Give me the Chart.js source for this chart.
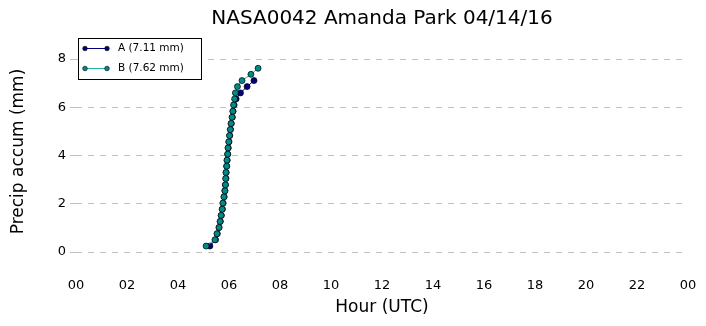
<!DOCTYPE html>
<html>
<head>
<meta charset="utf-8">
<script src="https://cdn.jsdelivr.net/npm/chart.js@4.4.1/dist/chart.umd.min.js"></script>
<style>
  body { margin: 0; background: #fff; }
  canvas { display: block; }
</style>
</head>
<body>
<canvas id="precipChart" width="706" height="326"></canvas>
<script>
// cumulative precip (mm), one point per bucket tip
const seriesA = [0.25, 0.51, 0.76, 1.02, 1.27, 1.52, 1.78, 2.03, 2.29, 2.54, 2.79, 3.05, 3.30, 3.56,
                 3.81, 4.06, 4.32, 4.57, 4.83, 5.08, 5.33, 5.59, 5.84, 6.10, 6.35, 6.60, 6.86, 7.11];
const hoursA = [5.25, 5.47, 5.54, 5.61, 5.66, 5.70, 5.74, 5.77, 5.81, 5.84, 5.86, 5.88, 5.89, 5.91,
                5.93, 5.95, 5.97, 6.00, 6.03, 6.06, 6.09, 6.13, 6.16, 6.20, 6.28, 6.45, 6.71, 6.98];
const seriesB = [0.25, 0.51, 0.76, 1.02, 1.27, 1.52, 1.78, 2.03, 2.29, 2.54, 2.79, 3.05, 3.30, 3.56,
                 3.81, 4.06, 4.32, 4.57, 4.83, 5.08, 5.33, 5.59, 5.84, 6.10, 6.35, 6.60, 6.86, 7.11,
                 7.37, 7.62];
const hoursB = [5.10, 5.45, 5.53, 5.61, 5.65, 5.69, 5.73, 5.76, 5.80, 5.84, 5.86, 5.87, 5.88, 5.91,
                5.92, 5.95, 5.96, 5.99, 6.02, 6.05, 6.08, 6.12, 6.15, 6.18, 6.22, 6.25, 6.33, 6.51,
                6.86, 7.14];
const seriesLabels = ['A (7.11 mm)', 'B (7.62 mm)'];
const xTicks = [0, 2, 4, 6, 8, 10, 12, 14, 16, 18, 20, 22, 24];
const yTicks = [0, 2, 4, 6, 8];
const titleText = 'NASA0042 Amanda Park 04/14/16';

const colA = '#000080';
const colB = '#20b2aa';
const fillB = '#008b8b';
const FONT = "'DejaVu Sans', sans-serif";

const toPoints = (xs, ys) => xs.map((x, i) => ({ x: x, y: ys[i] }));

// title centred over the plot area, not the canvas
const plotTitle = {
    id: 'plotTitle',
    afterDraw(chart) {
        const c = chart.ctx;
        const a = chart.chartArea;
        c.save();
        c.fillStyle = '#000';
        c.font = '20px ' + FONT;
        c.textAlign = 'center';
        c.textBaseline = 'middle';
        c.fillText(titleText, (a.left + a.right) / 2, 19);
        c.restore();
    }
};

// legend box drawn inside the plot, top left
const boxLegend = {
    id: 'boxLegend',
    afterDraw(chart) {
        const c = chart.ctx;
        const left = chart.chartArea.left + 2;
        const top = chart.chartArea.top + 3;
        c.save();
        c.fillStyle = '#fff';
        c.fillRect(left, top, 123, 41);
        c.strokeStyle = '#000';
        c.lineWidth = 1;
        c.strokeRect(left + 0.5, top + 0.5, 123, 41);
        chart.data.datasets.forEach((ds, i) => {
            const y = top + 10.5 + i * 20;
            c.strokeStyle = ds.borderColor;
            c.lineWidth = 1;
            c.beginPath();
            c.moveTo(left + 7, y);
            c.lineTo(left + 29, y);
            c.stroke();
            [left + 7, left + 29].forEach(px => {
                c.beginPath();
                c.arc(px, y, 2.3, 0, Math.PI * 2);
                c.fillStyle = ds.pointBackgroundColor;
                c.fill();
                c.strokeStyle = '#000';
                c.lineWidth = 0.6;
                c.stroke();
            });
            c.fillStyle = '#000';
            c.font = '10.5px ' + FONT;
            c.textBaseline = 'middle';
            c.fillText(ds.label, left + 40, y);
        });
        c.restore();
    }
};

new Chart(document.getElementById('precipChart'), {
    type: 'line',
    data: {
        datasets: [{
            label: seriesLabels[0],
            data: toPoints(hoursA, seriesA),
            borderColor: colA,
            borderWidth: 1,
            pointBackgroundColor: colA,
            pointBorderColor: '#000',
            pointBorderWidth: 0.7,
            pointRadius: 3,
            order: 1
        }, {
            label: seriesLabels[1],
            data: toPoints(hoursB, seriesB),
            borderColor: colB,
            borderWidth: 1,
            pointBackgroundColor: fillB,
            pointBorderColor: '#000',
            pointBorderWidth: 0.7,
            pointRadius: 3,
            order: 0
        }]
    },
    options: {
        responsive: false,
        animation: false,
        layout: { padding: { left: 0, right: 18, top: 35, bottom: 0 } },
        plugins: {
            legend: { display: false },
            tooltip: { enabled: false },
            title: { display: false }
        },
        scales: {
            x: {
                type: 'linear',
                min: 0,
                max: 24,
                afterBuildTicks: s => { s.ticks = xTicks.map(v => ({ value: v })); },
                afterFit: s => { s.height = 58; },
                grid: { display: false },
                border: { display: false },
                ticks: {
                    color: '#000',
                    padding: 2,
                    maxRotation: 0,
                    font: { family: FONT, size: 13 },
                    callback: v => String(v % 24).padStart(2, '0')
                },
                title: {
                    display: true,
                    text: 'Hour (UTC)',
                    color: '#000',
                    font: { family: FONT, size: 17 },
                    padding: { top: 2, bottom: 8 }
                }
            },
            y: {
                min: -0.66,
                max: 9,
                afterBuildTicks: s => { s.ticks = yTicks.map(v => ({ value: v })); },
                afterFit: s => { s.width = 76; },
                grid: {
                    color: '#c0c0c0',
                    lineWidth: 1,
                    tickLength: 6,
                    drawTicks: true
                },
                border: { display: false, dash: [6, 6] },
                ticks: {
                    color: '#000',
                    padding: 4,
                    font: { family: FONT, size: 13 }
                },
                title: {
                    display: true,
                    text: 'Precip accum (mm)',
                    color: '#000',
                    font: { family: FONT, size: 17 },
                    padding: { top: 8, bottom: 4 }
                }
            }
        }
    },
    plugins: [plotTitle, boxLegend]
});
</script>
</body>
</html>
